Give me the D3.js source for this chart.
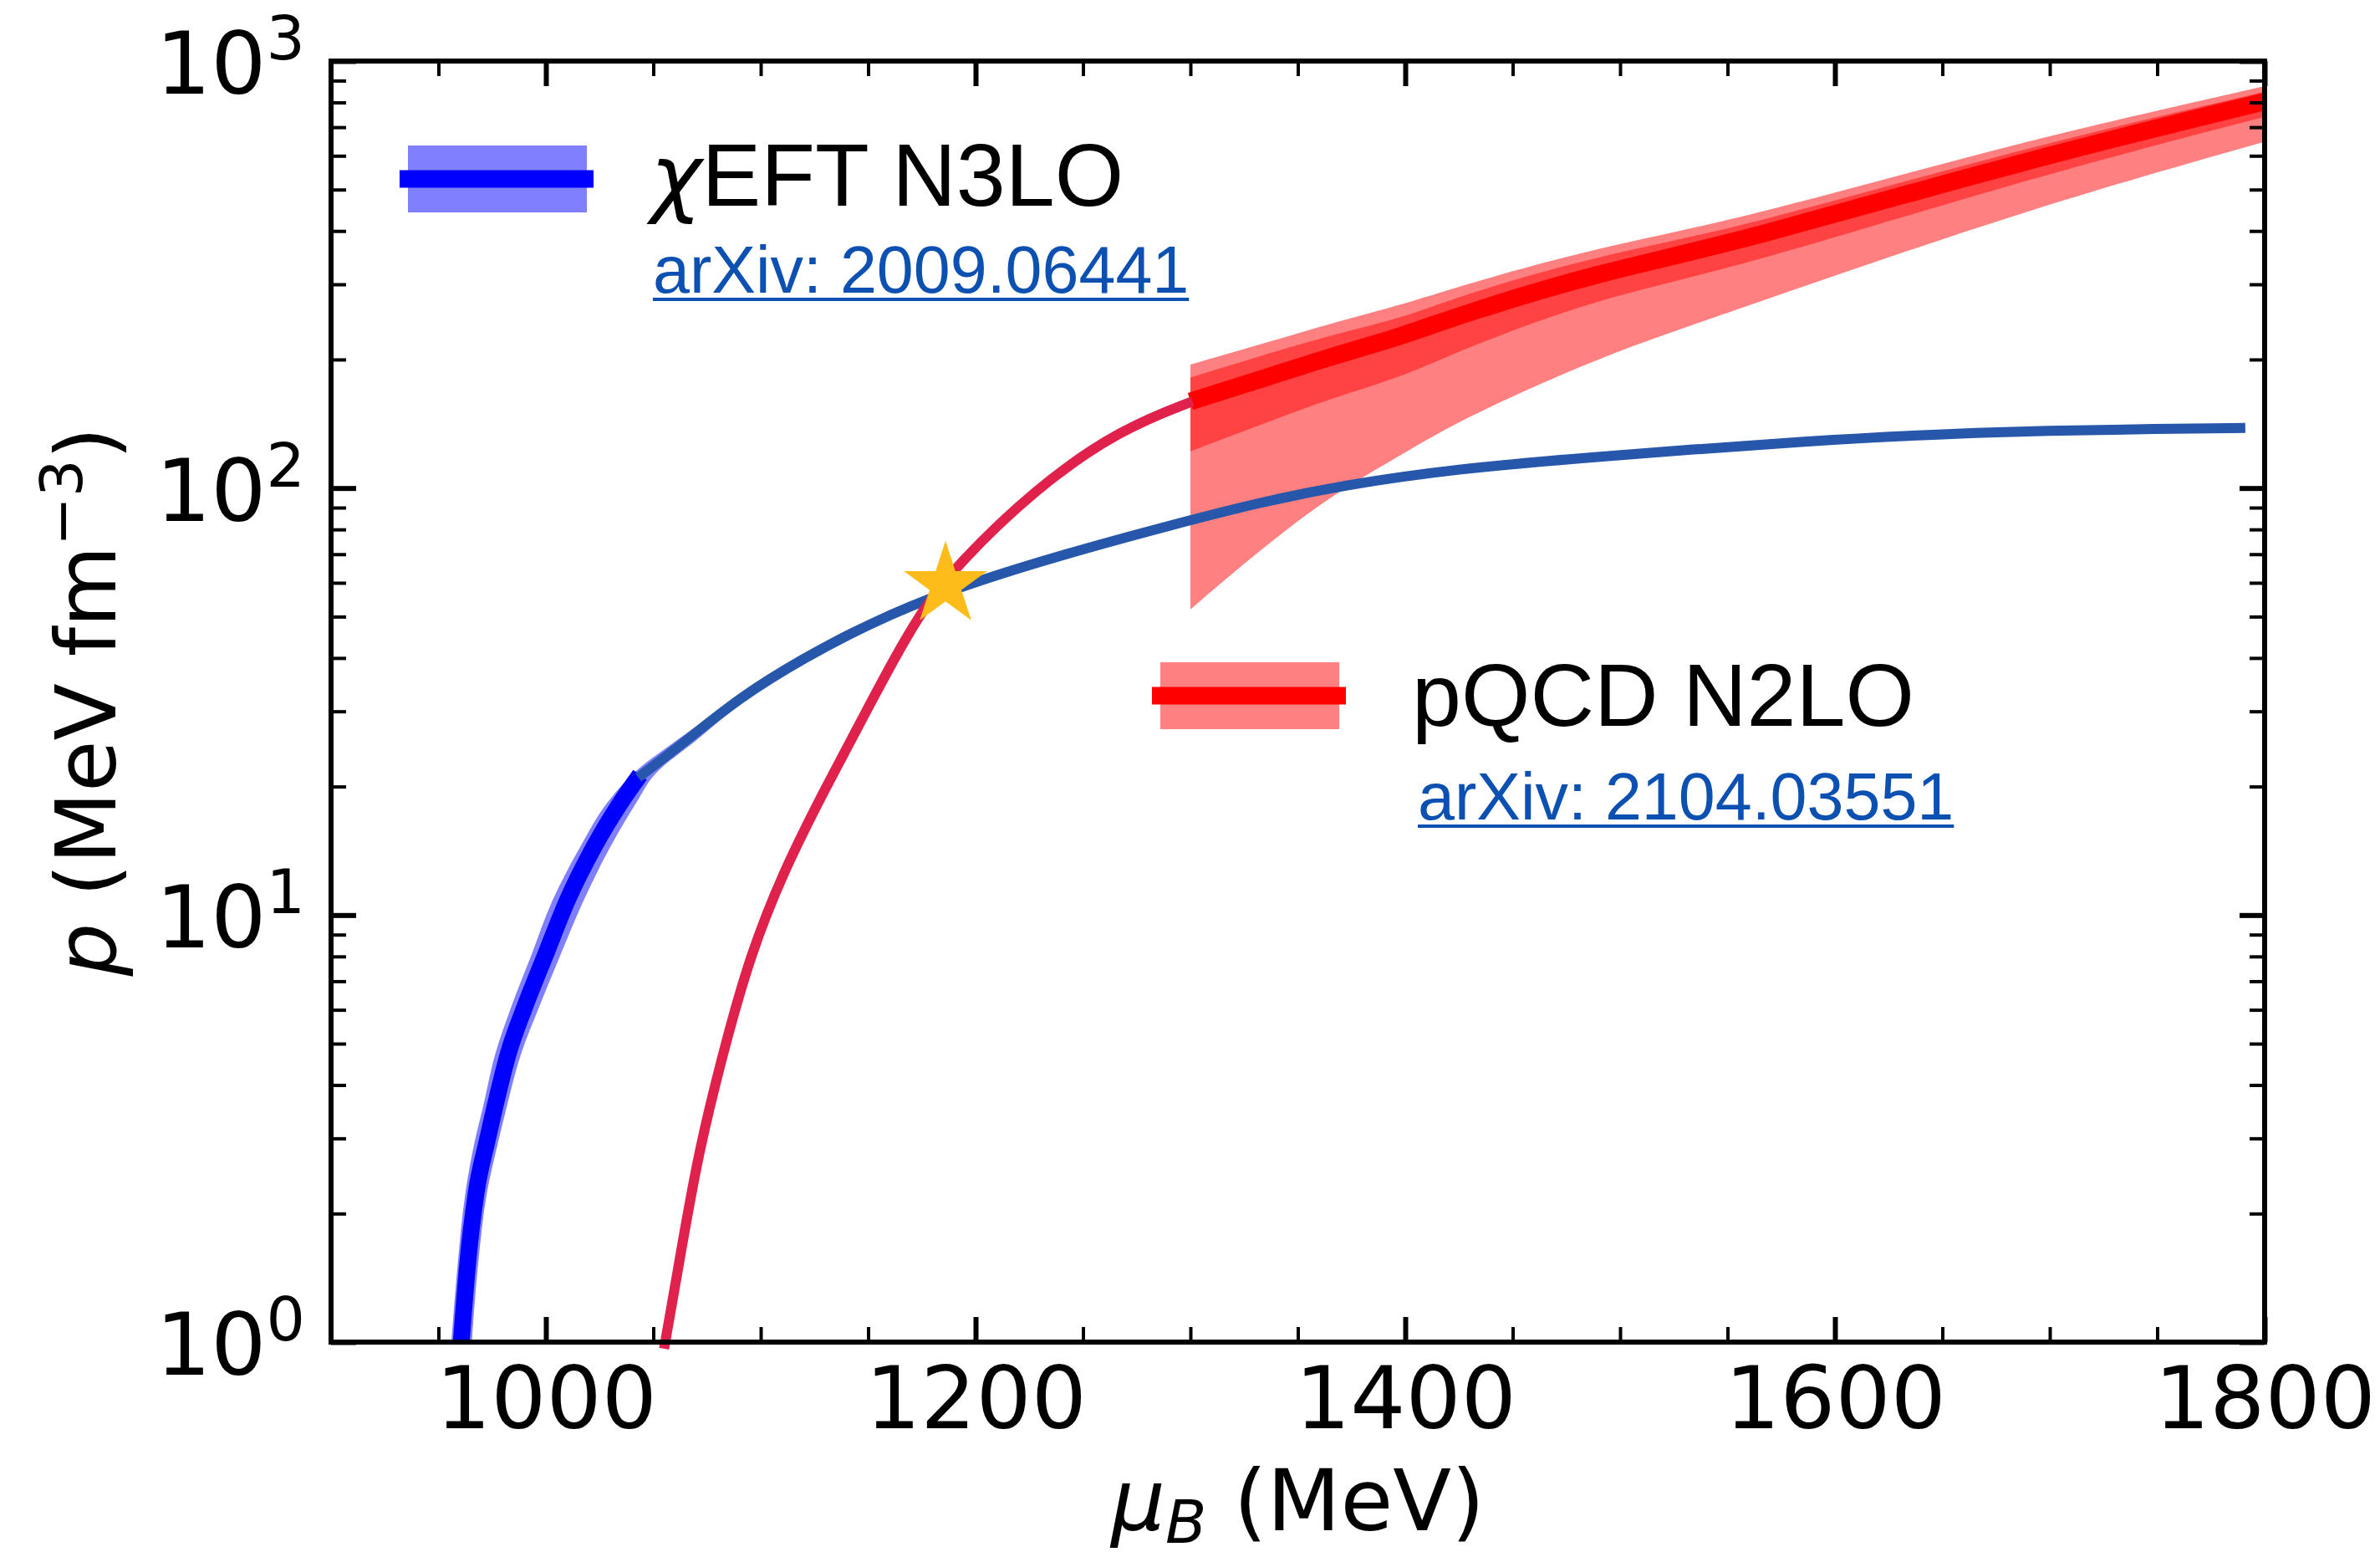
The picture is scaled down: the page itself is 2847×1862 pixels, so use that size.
<!DOCTYPE html>
<html>
<head>
<meta charset="utf-8">
<script src="https://cdn.jsdelivr.net/npm/d3@7"></script>
<style>
  body { margin: 0; background: #fff; }
  svg { display: block; }
</style>
</head>
<body>
<div id="chart"></div>
<script>
// Values
const muMajorTicks = [1000, 1200, 1400, 1600, 1800];
const muMinorTicks = [950, 1050, 1100, 1150, 1250, 1300, 1350, 1450, 1500, 1550, 1650, 1700, 1750];
const pMajorTicks = [1, 10, 100, 1000];

// chiEFT N3LO central curve (thick blue)
const eftMu = [960.6, 963.6, 967.5, 972.7, 976, 982.5, 990.3, 999.5, 1009.9, 1022.9, 1034.7, 1043.8];
const eftP = [1.0, 1.53, 2.23, 2.97, 3.51, 4.74, 6.12, 8.0, 10.8, 14.6, 18.3, 21.3];

// chiEFT uncertainty band, as a mu range at fixed p
const eftBandP = [1.0, 1.53, 2.23, 2.97, 3.51, 4.74, 6.12, 8.0, 10.8, 14.6, 18.3, 21.3, 25.9, 31.6];
const eftBandMuLo = [956, 959, 962.5, 967, 970.5, 976.5, 984, 993, 1003, 1016.5, 1028.5, 1040, 1062, 1087];
const eftBandMuHi = [965.5, 968.5, 972.5, 978, 981.5, 988.5, 997, 1006.5, 1017.5, 1030.5, 1042, 1050.5, 1071, 1091];

// matched EOS (steel blue)
const eosMu = [1043, 1065, 1090, 1120, 1150, 1186, 1240, 1293, 1332, 1371, 1424, 1489, 1593, 1645, 1700, 1750, 1791];
const eosP = [21.0, 25.5, 32.3, 40, 48, 57.4, 69.8, 82.4, 92.5, 101.6, 111, 118.5, 129.5, 133.5, 136.5, 137.5, 138.3];

// pQCD continued to low mu (crimson)
const pqcdLowMu = [1055, 1062, 1071, 1084, 1095, 1110, 1130, 1150, 1163, 1176, 1191, 1228, 1267, 1301];
const pqcdLowP = [0.965, 1.53, 2.8, 5.1, 8.0, 12.5, 19.8, 30.6, 40.6, 52.5, 65.8, 100, 137, 159.6];

// pQCD N2LO central line and bands
const pqcdMu = [1300, 1330, 1365, 1400, 1425, 1490, 1555, 1685, 1800];
const pqcdCenter = [159.6, 178, 203, 228, 254, 320, 376, 580, 804];
const pqcdInnerLo = [121.9, 139, 162, 183, 210, 279, 328, 523, 740];
const pqcdInnerHi = [181.5, 202, 228, 251, 282, 351, 405, 622, 847];
const pqcdOuterLo = [52, 70, 96, 121, 144, 203, 262, 443, 647];
const pqcdOuterHi = [194.6, 215, 243, 270, 297, 367, 424, 646, 873];

// matching point (star)
const matchMu = [1186];
const matchP = [59.4];

const legendNames = ["EFT N3LO", "pQCD N2LO"];
const legendRefs = ["arXiv: 2009.06441", "arXiv: 2104.03551"];

const width = 2847;
const height = 1862;
const margin = { top: 73, right: 138, bottom: 257, left: 396 };

const svg = d3
  .select("#chart")
  .append("svg")
  .attr("width", width)
  .attr("height", height);

const x = d3
  .scaleLinear()
  .domain([900, 1800])
  .range([margin.left, width - margin.right]);

const y = d3
  .scaleLog()
  .domain([1, 1000])
  .range([height - margin.bottom, margin.top]);

const zip = (xs, ys) => xs.map((mu, i) => ({ mu: mu, p: ys[i] }));

const line = d3
  .line()
  .x((d) => x(d.mu))
  .y((d) => y(d.p))
  .curve(d3.curveMonotoneX);

const smoothLine = d3
  .line()
  .x((d) => x(d.mu))
  .y((d) => y(d.p))
  .curve(d3.curveBasis);

// chiEFT band (mu range at each p)
const eftBand = eftBandP.map((p, i) => ({ p: p, lo: eftBandMuLo[i], hi: eftBandMuHi[i] }));
svg
  .append("path")
  .datum(eftBand)
  .attr("fill", "#8080ff")
  .attr(
    "d",
    d3
      .area()
      .y((d) => y(d.p))
      .x0((d) => x(d.lo))
      .x1((d) => x(d.hi))
      .curve(d3.curveMonotoneY)
  );

svg
  .append("path")
  .datum(zip(eftMu, eftP))
  .attr("fill", "none")
  .attr("stroke", "#0000ff")
  .attr("stroke-width", 20)
  .attr("d", line);

// pQCD bands
const pqcdRows = pqcdMu.map((mu, i) => ({
  mu: mu,
  c: pqcdCenter[i],
  iLo: pqcdInnerLo[i],
  iHi: pqcdInnerHi[i],
  oLo: pqcdOuterLo[i],
  oHi: pqcdOuterHi[i],
}));

const band = (lo, hi) =>
  d3
    .area()
    .x((d) => x(d.mu))
    .y0((d) => y(d[lo]))
    .y1((d) => y(d[hi]))
    .curve(d3.curveBasis);

svg.append("path").datum(pqcdRows).attr("fill", "#ff8080").attr("d", band("oLo", "oHi"));
svg.append("path").datum(pqcdRows).attr("fill", "#ff4343").attr("d", band("iLo", "iHi"));

svg
  .append("path")
  .datum(zip(pqcdMu, pqcdCenter))
  .attr("fill", "none")
  .attr("stroke", "#ff0000")
  .attr("stroke-width", 21)
  .attr("d", smoothLine);

// matched EOS and low-mu pQCD
svg
  .append("path")
  .datum(zip(eosMu, eosP))
  .attr("fill", "none")
  .attr("stroke", "#2757ab")
  .attr("stroke-width", 12)
  .attr("d", smoothLine);

svg
  .append("path")
  .datum(zip(pqcdLowMu, pqcdLowP))
  .attr("fill", "none")
  .attr("stroke", "#e0214b")
  .attr("stroke-width", 12)
  .attr("d", smoothLine);

// star at the matching point
svg
  .selectAll(".match")
  .data(zip(matchMu, matchP))
  .enter()
  .append("path")
  .attr("class", "match")
  .attr("transform", (d) => `translate(${x(d.mu)},${y(d.p)})`)
  .attr("fill", "#fdbc1a")
  .attr("d", d3.symbol().type(d3.symbolStar).size(3090));

// ---------- axes ----------
const tickFont = "DejaVu Sans";
const majorLen = -30;
const minorLen = -18;

function styleTicks(g, w) {
  g.select(".domain").remove();
  g.selectAll(".tick line").attr("stroke", "#000").attr("stroke-width", w);
}

const yBottom = y(1);
const yTop = y(1000);
const xLeft = x(900);
const xRight = x(1800);

// bottom
const gBottom = svg
  .append("g")
  .attr("transform", `translate(0,${yBottom})`)
  .call(d3.axisBottom(x).tickValues(muMajorTicks).tickSize(majorLen).tickPadding(29).tickFormat(d3.format("d")));
styleTicks(gBottom, 6);
gBottom.selectAll(".tick text").attr("font-family", tickFont).attr("font-size", 104).attr("fill", "#000");

svg
  .append("g")
  .attr("transform", `translate(0,${yBottom})`)
  .call(d3.axisBottom(x).tickValues(muMinorTicks).tickSize(minorLen).tickFormat(""))
  .call((g) => styleTicks(g, 4));

// top
svg
  .append("g")
  .attr("transform", `translate(0,${yTop})`)
  .call(d3.axisTop(x).tickValues(muMajorTicks).tickSize(majorLen).tickFormat(""))
  .call((g) => styleTicks(g, 6));
svg
  .append("g")
  .attr("transform", `translate(0,${yTop})`)
  .call(d3.axisTop(x).tickValues(muMinorTicks).tickSize(minorLen).tickFormat(""))
  .call((g) => styleTicks(g, 4));

// left and right
const pMinorTicks = y.ticks().filter((v) => !pMajorTicks.includes(v));

const gLeft = svg
  .append("g")
  .attr("transform", `translate(${xLeft},0)`)
  .call(d3.axisLeft(y).tickValues(pMajorTicks).tickSize(majorLen).tickPadding(31));
styleTicks(gLeft, 6);
gLeft
  .selectAll(".tick text")
  .attr("font-family", tickFont)
  .attr("font-size", 104)
  .attr("fill", "#000")
  .attr("dy", "0.37em")
  .text(null)
  .each(function (d) {
    const t = d3.select(this);
    t.append("tspan").text("10");
    t.append("tspan")
      .attr("dy", -41)
      .attr("font-size", 73)
      .text(Math.round(Math.log10(d)));
  });

svg
  .append("g")
  .attr("transform", `translate(${xLeft},0)`)
  .call(d3.axisLeft(y).tickValues(pMinorTicks).tickSize(minorLen).tickFormat(""))
  .call((g) => styleTicks(g, 4));

svg
  .append("g")
  .attr("transform", `translate(${xRight},0)`)
  .call(d3.axisRight(y).tickValues(pMajorTicks).tickSize(majorLen).tickFormat(""))
  .call((g) => styleTicks(g, 6));
svg
  .append("g")
  .attr("transform", `translate(${xRight},0)`)
  .call(d3.axisRight(y).tickValues(pMinorTicks).tickSize(minorLen).tickFormat(""))
  .call((g) => styleTicks(g, 4));

// frame
svg
  .append("rect")
  .attr("x", xLeft)
  .attr("y", yTop)
  .attr("width", xRight - xLeft)
  .attr("height", yBottom - yTop)
  .attr("fill", "none")
  .attr("stroke", "#000")
  .attr("stroke-width", 6);

// axis titles
const xTitle = svg
  .append("text")
  .attr("x", (xLeft + xRight) / 2)
  .attr("y", 1830)
  .attr("text-anchor", "middle")
  .attr("font-family", tickFont)
  .attr("font-size", 102);
xTitle.append("tspan").attr("font-style", "italic").text("μ");
xTitle.append("tspan").attr("font-style", "italic").attr("font-size", 72).attr("dy", 15).text("B");
xTitle.append("tspan").attr("dy", -15).text(" (MeV)");

const yTitle = svg
  .append("text")
  .attr("transform", `translate(138,${(yTop + yBottom) / 2}) rotate(-90)`)
  .attr("text-anchor", "middle")
  .attr("font-family", tickFont)
  .attr("font-size", 100);
yTitle.append("tspan").attr("font-style", "italic").text("p");
yTitle.append("tspan").text(" (MeV fm");
yTitle.append("tspan").attr("font-size", 70).attr("dy", -40).text("−3");
yTitle.append("tspan").attr("dy", 40).text(")");

// ---------- legend ----------
const legendItems = [
  { name: legendNames[0], ref: legendRefs[0], light: "#8080ff", dark: "#0000ff", chi: true,
    patchX: 488, patchY: 174, textX: 778, textY: 246, refX: 781, refY: 350 },
  { name: legendNames[1], ref: legendRefs[1], light: "#ff8080", dark: "#ff0000", chi: false,
    patchX: 1388, patchY: 792, textX: 1689, textY: 868, refX: 1696, refY: 980 },
];

legendItems.forEach((d) => {
  svg.append("rect")
    .attr("x", d.patchX)
    .attr("y", d.patchY)
    .attr("width", 214)
    .attr("height", 80)
    .attr("fill", d.light);
  svg.append("line")
    .attr("x1", d.patchX - 10)
    .attr("x2", d.patchX + 222)
    .attr("y1", d.patchY + 40)
    .attr("y2", d.patchY + 40)
    .attr("stroke", d.dark)
    .attr("stroke-width", 21);

  const t = svg.append("text")
    .attr("x", d.textX)
    .attr("y", d.textY)
    .attr("font-family", "Liberation Sans")
    .attr("font-size", 106)
    .attr("fill", "#000");
  if (d.chi) {
    t.append("tspan").attr("font-family", "DejaVu Sans").attr("font-style", "italic").attr("font-size", 104).text("χ");
  }
  t.append("tspan").text(d.name);

  const r = svg.append("text")
    .attr("x", d.refX)
    .attr("y", d.refY)
    .attr("font-family", "Liberation Sans")
    .attr("font-size", 79)
    .attr("fill", "#0c50b2")
    .text(d.ref);
  const w = r.node().getComputedTextLength();
  svg.append("line")
    .attr("x1", d.refX)
    .attr("x2", d.refX + w)
    .attr("y1", d.refY + 8)
    .attr("y2", d.refY + 8)
    .attr("stroke", "#0c50b2")
    .attr("stroke-width", 4);
});
</script>
</body>
</html>
